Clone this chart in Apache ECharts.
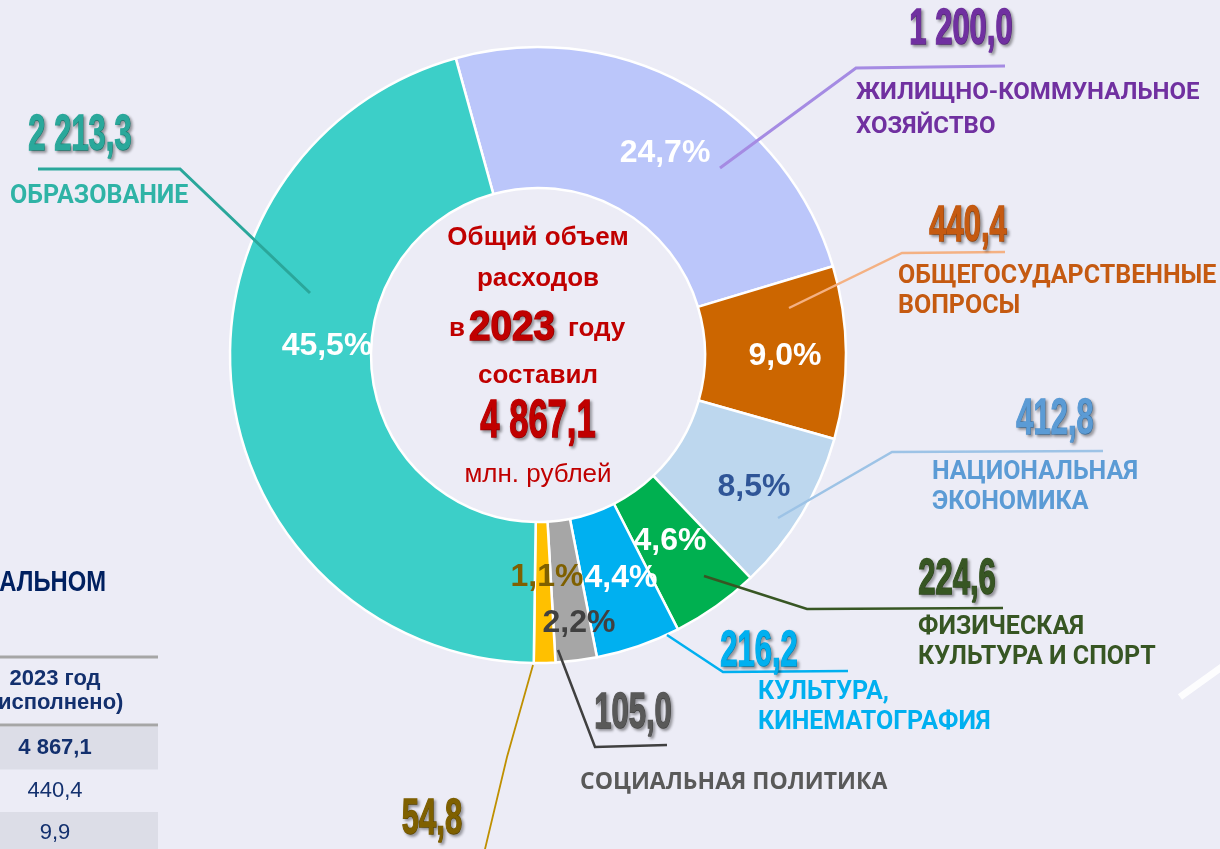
<!DOCTYPE html>
<html>
<head>
<meta charset="utf-8">
<title>Расходы 2023</title>
<script src="https://cdn.jsdelivr.net/npm/echarts@6/dist/echarts.min.js"></script>
<style>
  html, body { margin: 0; padding: 0; background: #ECECF6; }
  #chart { width: 1220px; height: 849px; }
</style>
</head>
<body>
<div id="chart"></div>
<script>
// расходы бюджета за 2023 год, млн. рублей (по часовой стрелке)
const categories = [
  'ЖИЛИЩНО-КОММУНАЛЬНОЕ\nХОЗЯЙСТВО',
  'ОБЩЕГОСУДАРСТВЕННЫЕ\nВОПРОСЫ',
  'НАЦИОНАЛЬНАЯ\nЭКОНОМИКА',
  'ФИЗИЧЕСКАЯ\nКУЛЬТУРА И СПОРТ',
  'КУЛЬТУРА,\nКИНЕМАТОГРАФИЯ',
  'СОЦИАЛЬНАЯ ПОЛИТИКА',
  'ПРОЧИЕ',
  'ОБРАЗОВАНИЕ'
];
const values = [1200.0, 440.4, 412.8, 224.6, 216.2, 105.0, 54.8, 2213.3];
const year = 2023;

// кусок таблицы слева внизу
const tableHeader = ['2023 год', '(исполнено)'];
const tableValues = [4867.1, 440.4, 9.9];

// цвета
const sliceColors = ['#BBC6FA', '#CC6600', '#BDD7EE', '#00B050', '#00B0F0', '#A6A6A6', '#FFC000', '#3CCFC8'];
const pctColors   = ['#fff', '#fff', '#2F5597', '#fff', '#fff', '#404040', '#7F6000', '#fff'];
const valueColors = ['#7030A0', '#C55A11', '#5B9BD5', '#375623', '#00B0F0', '#595959', '#7F6000', '#2AA89B'];
const nameColors  = ['#7030A0', '#C55A11', '#5B9BD5', '#375623', '#00B0F0', '#595959', '#7F6000', '#2FB3A6'];
const lineColors  = ['#A58BE3', '#F4B183', '#9DC3E6', '#375623', '#00B0F0', '#404040', '#BF9000', '#2AA79B'];

// раскладка подписей
const pieCenter = [538, 355];
const pctPos   = [[665, 153], [785, 356], [754, 487], [670, 541], [621, 578], [579, 623], [547, 577], [327, 346]];
const valuePos = [[961, 30], [968, 227], [1055, 420], [957, 580], [759, 652], [633, 714], [432, 820], [80, 136]];
const namePos  = [[856, 110], [898, 292], [932, 488], [918, 643], [758, 708], [580, 782], null, [10, 197]];
const leaderPts = [
  [[720, 168], [856, 68], [1005, 66]],
  [[789, 308], [902, 253], [1005, 252]],
  [[778, 518], [892, 452], [1103, 451]],
  [[704, 576], [807, 609], [1003, 608]],
  [[667, 635], [723, 672], [848, 671]],
  [[558, 650], [595, 747], [667, 745]],
  [[533, 665], [507, 757], [480, 870]],
  [[310, 293], [180, 169], [38, 169]]
];
const leaderWidths = [3, 2.5, 2.5, 2.5, 2.5, 2.5, 1.8, 3];

const sans = '"Liberation Sans", Arial, sans-serif';
const roboto = 'Roboto, "Liberation Sans", sans-serif';
const red = '#C00000';
const navy = '#13306E';
const shadow = { textShadowColor: 'rgba(0,0,0,0.35)', textShadowBlur: 3, textShadowOffsetX: 2, textShadowOffsetY: 2 };

const total = values.reduce((a, b) => a + b, 0);

function fmt(v) {
  const parts = v.toFixed(1).split('.');
  return parts[0].replace(/\B(?=(\d{3})+(?!\d))/g, ' ') + ',' + parts[1];
}
function pct(v) {
  return (v / total * 100).toFixed(1).replace('.', ',') + '%';
}

const chart = echarts.init(document.getElementById('chart'));

const pieBase = {
  type: 'pie',
  center: pieCenter,
  radius: [167, 308],
  startAngle: 105.5,
  clockwise: true,
  avoidLabelOverlap: false,
  silent: true,
  animation: false,
  emphasis: { disabled: true }
};

// центр кольца
const cx = pieCenter[0], cy = pieCenter[1];
function redText(txt, x, y, font, align, extra) {
  return Object.assign({
    type: 'text', x: x, y: y,
    style: Object.assign({ text: txt, font: font, fill: red, align: align || 'center', verticalAlign: 'middle' }, extra && extra.style)
  }, extra && extra.props);
}
// жирный "сжатый" шрифт: контур в цвет текста + тень
const heavyRed = Object.assign({ stroke: red, lineWidth: 1.5 }, shadow);
const centerText = [
  redText('Общий объем', cx, cy - 117, 'bold 26px ' + sans),
  redText('расходов', cx, cy - 76, 'bold 26px ' + sans),
  redText('в', cx - 73, cy - 26, 'bold 26px ' + sans, 'right'),
  redText(String(year), cx - 26, cy - 27, 'bold 42px ' + sans, 'center', { style: heavyRed, props: { scaleX: 0.92 } }),
  redText('году', cx + 30, cy - 26, 'bold 26px ' + sans, 'left'),
  redText('составил', cx, cy + 21, 'bold 26px ' + sans),
  redText(fmt(total), cx, cy + 67, 'bold 54px ' + sans, 'center', { style: heavyRed, props: { scaleX: 0.64 } }),
  redText('млн. рублей', cx, cy + 120, '26px ' + sans)
];

// выноски и суммы по разделам
const leaderEls = [];
values.forEach((v, i) => {
  leaderEls.push({
    type: 'polyline', z: 10, silent: true,
    shape: { points: leaderPts[i] },
    style: { stroke: lineColors[i], lineWidth: leaderWidths[i], fill: null }
  });
  leaderEls.push({
    type: 'text', z: 11, silent: true,
    x: valuePos[i][0], y: valuePos[i][1], scaleX: 0.62,
    style: Object.assign({
      text: fmt(v), font: 'bold 50px ' + sans, fill: valueColors[i],
      stroke: valueColors[i], lineWidth: 1.5,
      align: 'center', verticalAlign: 'middle'
    }, shadow)
  });
});

// обрывок таблицы
const tableEls = [
  { type: 'text', x: 106, y: 583, scaleX: 0.82, style: { text: 'АЛЬНОМ', font: 'bold 29px ' + sans, fill: '#002060', align: 'right', verticalAlign: 'middle' } },
  { type: 'line', shape: { x1: 0, y1: 657, x2: 158, y2: 657 }, style: { stroke: '#A6A6A6', lineWidth: 3 } },
  { type: 'text', x: 55, y: 679, style: { text: tableHeader[0], font: 'bold 22px ' + sans, fill: navy, align: 'center', verticalAlign: 'middle' } },
  { type: 'text', x: 57, y: 703, style: { text: tableHeader[1], font: 'bold 22px ' + sans, fill: navy, align: 'center', verticalAlign: 'middle' } },
  { type: 'line', shape: { x1: 0, y1: 725, x2: 158, y2: 725 }, style: { stroke: '#A6A6A6', lineWidth: 3 } }
];
tableValues.forEach((v, i) => {
  const top = 727 + i * 42.5;
  if (i % 2 === 0) {
    tableEls.push({ type: 'rect', shape: { x: 0, y: top, width: 158, height: 42.5 }, style: { fill: '#DCDDE7' } });
  }
  tableEls.push({ type: 'text', x: 55, y: top + 21, style: { text: fmt(v), font: (i === 0 ? 'bold ' : '') + '22px ' + sans, fill: navy, align: 'center', verticalAlign: 'middle' } });
});

const option = {
  backgroundColor: '#ECECF6',
  graphic: [
    { type: 'line', shape: { x1: 1180, y1: 697, x2: 1226, y2: 664 }, style: { stroke: '#fff', lineWidth: 7, opacity: 0.9 } }
  ].concat(centerText, tableEls, leaderEls),
  series: [
    // сектора и проценты
    Object.assign({}, pieBase, {
      itemStyle: { borderColor: '#fff', borderWidth: 2.5 },
      data: values.map((v, i) => ({
        value: v, name: categories[i],
        itemStyle: { color: sliceColors[i] },
        label: { color: pctColors[i] }
      })),
      label: {
        show: true, position: 'inside',
        formatter: p => pct(p.value),
        fontFamily: sans, fontWeight: 'bold', fontSize: 32
      },
      labelLine: { show: false },
      labelLayout: p => ({ x: pctPos[p.dataIndex][0], y: pctPos[p.dataIndex][1], align: 'center', verticalAlign: 'middle' })
    }),
    // названия разделов
    Object.assign({}, pieBase, {
      itemStyle: { color: 'transparent', borderWidth: 0 },
      data: values.map((v, i) => {
        const lbl = { show: namePos[i] != null, color: nameColors[i] };
        if (i === 0) { lbl.lineHeight = 34; lbl.fontSize = 24; }
        if (i === 5) { lbl.fontFamily = '"Open Sans", sans-serif'; lbl.fontSize = 23; }
        return { value: v, name: categories[i], label: lbl };
      }),
      label: {
        show: true, position: 'outside', formatter: '{b}',
        fontFamily: roboto, fontWeight: 'bold', fontSize: 25, lineHeight: 30
      },
      labelLine: { show: false },
      labelLayout: p => {
        const pos = namePos[p.dataIndex];
        return pos ? { x: pos[0], y: pos[1], align: 'left', verticalAlign: 'middle' } : {};
      }
    })
  ]
};

chart.setOption(option);
</script>
</body>
</html>
